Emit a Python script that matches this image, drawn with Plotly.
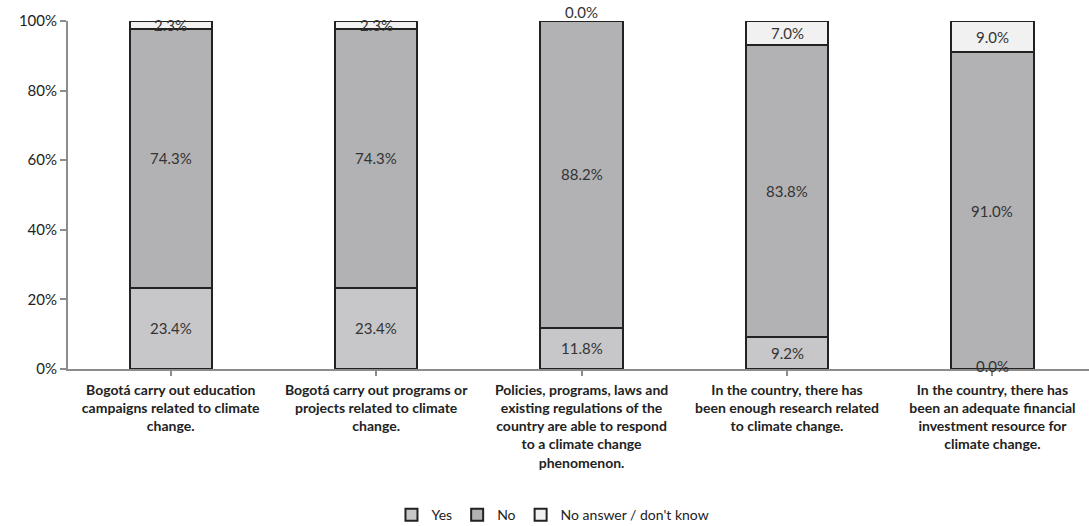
import plotly.graph_objects as go

categories = [
    "Bogotá carry out education<br>campaigns related to climate<br>change.",
    "Bogotá carry out programs or<br>projects related to climate<br>change.",
    "Policies, programs, laws and<br>existing regulations of the<br>country are able to respond<br>to a climate change<br>phenomenon.",
    "In the country, there has<br>been enough research related<br>to climate change.",
    "In the country, there has<br>been an adequate financial<br>investment resource for<br>climate change.",
]
yes_values = [23.4, 23.4, 11.8, 9.2, 0.0]
no_values = [74.3, 74.3, 88.2, 83.8, 91.0]
na_values = [2.3, 2.3, 0.0, 7.0, 9.0]
y_ticks = [0, 20, 40, 60, 80, 100]
y_tick_labels = ["0%", "20%", "40%", "60%", "80%", "100%"]

series = [
    ("Yes", yes_values, "#c7c7c9"),
    ("No", no_values, "#b2b2b4"),
    ("No answer / don't know", na_values, "#f1f1f1"),
]

FONT = "Lato"
x_idx = list(range(len(categories)))

fig = go.Figure()
for name, vals, color in series:
    fig.add_trace(go.Bar(
        name=name, x=x_idx, y=vals, width=0.4,
        marker=dict(color=color, line=dict(color="#222222", width=2)),
    ))

# value labels centred in each segment; empty segments sit on their edge
label_font = dict(family=FONT, size=15, color="#333333")
annotations = []
base = [0.0] * len(categories)
for si, (name, vals, color) in enumerate(series):
    for i, v in enumerate(vals):
        label = f"{v:.1f}%"
        if v == 0:
            if si == 0:
                annotations.append(dict(x=i, y=0, text=label, showarrow=False,
                                        yanchor="middle", yshift=3, font=label_font))
            else:
                annotations.append(dict(x=i, y=base[i], text=label, showarrow=False,
                                        yanchor="bottom", yshift=-2, font=label_font))
        else:
            annotations.append(dict(x=i, y=base[i] + v / 2, text=label, showarrow=False,
                                    yanchor="middle", font=label_font))
        base[i] += v

fig.update_layout(
    barmode="stack",
    width=1089, height=526,
    margin=dict(l=68, r=0, t=21, b=157, autoexpand=False),
    paper_bgcolor="white", plot_bgcolor="white",
    annotations=annotations,
    showlegend=True,
    legend=dict(orientation="h", x=0.475, xanchor="center", y=-0.42, yanchor="middle",
                font=dict(family=FONT, size=14, color="#222222"),
                traceorder="normal", itemwidth=30, bgcolor="rgba(0,0,0,0)"),
    xaxis=dict(
        range=[-0.5, 4.47], tickmode="array", tickvals=x_idx,
        ticktext=[f"<b>{c}</b>" for c in categories],
        ticks="outside", tickson="boundaries", ticklen=5, tickcolor="#8c8c8c", tickwidth=2,
        ticklabelstandoff=2, automargin=False,
        showline=True, linecolor="#8c8c8c", linewidth=2, showgrid=False, zeroline=False,
        tickfont=dict(family=FONT, size=14, color="#222222"),
    ),
    yaxis=dict(
        range=[0, 100], tickmode="array", tickvals=y_ticks, ticktext=y_tick_labels,
        ticks="outside", ticklen=6, tickcolor="#8c8c8c", tickwidth=2, automargin=False,
        showline=True, linecolor="#8c8c8c", linewidth=2, showgrid=False, zeroline=False,
        tickfont=dict(family=FONT, size=15, color="#222222"),
    ),
)

fig.write_html("out.html")
